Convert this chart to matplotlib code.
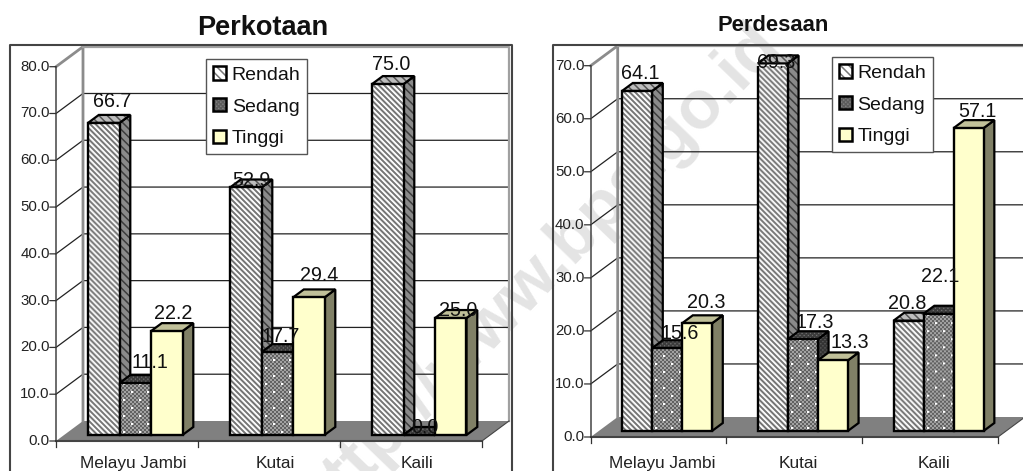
import matplotlib
matplotlib.use("Agg")
import matplotlib.pyplot as plt
import numpy as np
from matplotlib.legend_handler import HandlerTuple
from matplotlib.lines import Line2D
from matplotlib.patches import Patch

W, H = 1023, 471
plt.rcParams["font.family"] = ["Liberation Sans", "DejaVu Sans"]
plt.rcParams["hatch.linewidth"] = 1.1

# Data
categories = ["Melayu Jambi", "Kutai", "Kaili"]
series_names = ["Rendah", "Sedang", "Tinggi"]

kota_rendah = [66.7, 52.9, 75.0]
kota_sedang = [11.1, 17.7, 0.0]
kota_tinggi = [22.2, 29.4, 25.0]

desa_rendah = [64.1, 69.3, 20.8]
desa_sedang = [15.6, 17.3, 22.1]
desa_tinggi = [20.3, 13.3, 57.1]

kota_ticks = [0, 10, 20, 30, 40, 50, 60, 70, 80]
desa_ticks = [0, 10, 20, 30, 40, 50, 60, 70]

# Look of each series: (face, hatch colour, hatch) for side and top, plain colour for the front
STYLES = [
    {"front": "#c0c0c0", "side": ("#8a8a8a", "#3c3c3c", "\\\\\\\\"), "top": ("#bdbdbd", "#555555", "\\\\\\\\")},
    {"front": "#808080", "side": ("#5a5a5a", "#333333", "xxxxxxxx"), "top": ("#6e6e6e", "#3c3c3c", "xxxxxxxx")},
    {"front": "#ffffcc", "side": ("#808066", None, None), "top": ("#c0c099", None, None)},
]

# Label offsets in pixels from the top of each front face
KOTA_NUDGE = [
    [(8, 16), (6, 1), (3, 14)],
    [(15, 15), (3, 10), (6, 2)],
    [(6.5, 12), (10, 16), (7, 2)],
]
DESA_NUDGE = [
    [(3, 12), (3, -5), (-1, 11.6)],
    [(13, 9), (12, 11), (2, 32)],
    [(9, 15), (17, 12), (9, 11)],
]

DEPTH_X, DEPTH_Y = 27, 20
BAR_NEAR, BAR_FAR = 0.3, 0.7


def stripe_texture(rows, cols):
    # diagonal grey and white stripes
    yy, xx = np.mgrid[0:rows, 0:cols]
    wave = 0.5 + 0.5 * np.cos(2 * np.pi * (xx - yy) / 5.5)
    return 0.98 - 0.52 * np.clip(wave * 1.5 - 0.25, 0, 1)


def speckle_texture(rows, cols):
    # fine dark checker with small pale dots in staggered rows
    yy, xx = np.mgrid[0:rows, 0:cols]
    tex = np.where((xx // 2 + yy // 2) % 2 == 0, 0.38, 0.64)
    for r in range(3, rows, 8):
        shift = 4 if (r // 8) % 2 == 0 else 12
        for c in range(shift, cols, 16):
            tex[max(r - 1, 0):r + 1, max(c - 1, 0):c + 1] = 1.0
    return tex[::-1]


def fig_line(fig, xs, ys, color="#444444", lw=1.2):
    fig.add_artist(Line2D([x / W for x in xs], [1 - y / H for y in ys], color=color, lw=lw,
                          solid_capstyle="projecting"))


def draw_face(ax, xs, ys, style, z):
    face, hatch_color, hatch = style
    ax.fill(xs, ys, facecolor=face, edgecolor=hatch_color or face, hatch=hatch, lw=0, zorder=z, clip_on=False)
    ax.fill(xs, ys, facecolor="none", edgecolor="black", lw=1.6, zorder=z, clip_on=False, joinstyle="miter")


def legend_handles():
    outline = dict(facecolor="none", edgecolor="black", lw=1.8)
    rendah = Patch(facecolor="white", edgecolor="#777777", hatch="\\\\\\\\", lw=0)
    sedang = Patch(facecolor="#858585", edgecolor="#5c5c5c", hatch="xxxxxxxx", lw=0)
    tinggi = Patch(facecolor="#ffffcc", lw=0)
    return [(p, Patch(**outline)) for p in (rendah, sedang, tinggi)]


def draw_chart(fig, left, right, top, bottom, ticks, columns, bar_px, first_bar_px, nudges,
               title, title_xy, title_size, frame, legend_xy, label_shift, label_drop):
    ymax = ticks[-1]
    ax = fig.add_axes([left / W, 1 - bottom / H, (right - left) / W, (bottom - top) / H])
    ax.set_xlim(0, len(categories))
    ax.set_ylim(0, ymax)
    ax.axis("off")
    ax.patch.set_alpha(0)

    px_x = (right - left) / len(categories)
    px_y = (bottom - top) / ymax
    dx, dy = DEPTH_X / px_x, DEPTH_Y / px_y
    n = len(categories)

    # Frame around the whole chart
    fig_line(fig, [frame[0], frame[0], frame[1], frame[1]], [H, 44.5, 44.5, H], lw=1.5)

    # Floor, walls and gridlines
    ax.fill([0, n, n + dx, dx], [0, 0, dy, dy], color="#808080", lw=0, zorder=1, clip_on=False)
    ax.plot([0, n], [0, 0], color="#444444", lw=1.5, zorder=2, clip_on=False)
    ax.plot([n, n + dx], [0, dy], color="#444444", lw=0.8, zorder=2, clip_on=False)
    for t in ticks[1:-1]:
        ax.plot([0, dx, n + dx], [t, t + dy, t + dy], color="#222222", lw=0.9, zorder=1, clip_on=False)
    ax.plot([0, dx, dx], [ymax, ymax + dy, dy], color="#8c8c8c", lw=2, zorder=1, clip_on=False)
    ax.plot([dx, n + dx, n + dx], [ymax + dy, ymax + dy, dy], color="#a0a0a0", lw=1.6, zorder=1, clip_on=False)
    ax.plot([0, 0], [0, ymax], color="#444444", lw=1.1, zorder=2, clip_on=False)

    # Tick marks and labels
    for t in ticks:
        ax.annotate("", xy=(0, t), xytext=(-4.5, 0), textcoords="offset points",
                    arrowprops=dict(arrowstyle="-", color="#333333", lw=0.9, shrinkA=0, shrinkB=0))
        ax.annotate(f"{t:.1f}", xy=(0, t), xytext=(-4.5, 0), textcoords="offset points",
                    ha="right", va="center", fontsize=10.8, color="#222222")
    for i in range(n + 1):
        ax.plot([i, i], [0, -6 / px_y], color="#333333", lw=0.9, zorder=2, clip_on=False)
    for i, name in enumerate(categories):
        ax.annotate(name, xy=(i + 0.5, 0), xytext=(label_shift * 0.72, -label_drop * 0.72), textcoords="offset points",
                    ha="center", va="center", fontsize=12.4, color="#222222")

    # Bars, left to right so each front hides the neighbour's side
    w = bar_px / px_x
    base = BAR_NEAR * dy
    run = (BAR_FAR - BAR_NEAR) * dx
    rise = (BAR_FAR - BAR_NEAR) * dy
    z = 5
    for c in range(n):
        for s, values in enumerate(columns):
            v = values[c]
            st = STYLES[s]
            x0 = c + (first_bar_px + s * bar_px) / px_x
            x1 = x0 + w
            y1 = base + v
            draw_face(ax, [x1, x1 + run, x1 + run, x1], [base, base + rise, y1 + rise, y1], st["side"], z)
            draw_face(ax, [x0, x1, x1 + run, x0 + run], [y1, y1, y1 + rise, y1 + rise], st["top"], z)
            z += 1
            ax.bar(x0, v, width=w, bottom=base, align="edge", color=st["front"], lw=0, zorder=z)
            rows, cols = int(round(v * px_y)), int(round(bar_px))
            if rows > 0 and s < 2:
                tex = stripe_texture(rows, cols) if s == 0 else speckle_texture(rows, cols)
                ax.imshow(tex, extent=(x0, x1, base, y1), aspect="auto", cmap="gray", vmin=0, vmax=1,
                          interpolation="bilinear", zorder=z)
            ax.bar(x0, v, width=w, bottom=base, align="edge", color="none", edgecolor="black", lw=1.7, zorder=z)
            z += 1

    # Value labels go on top of every bar
    for c in range(n):
        for s, values in enumerate(columns):
            v = values[c]
            x = c + (first_bar_px + (s + 0.5) * bar_px) / px_x
            nx, ny = nudges[s][c]
            ax.annotate(f"{v:.1f}", xy=(x, base + v), xytext=(nx * 0.72, ny * 0.72), textcoords="offset points",
                        ha="center", va="baseline", fontsize=14.2, color="#111111", zorder=200,
                        annotation_clip=False)

    fig.text(title_xy[0] / W, 1 - title_xy[1] / H, title, ha="center", va="baseline",
             fontsize=title_size, fontweight="bold", color="#111111")

    leg = ax.legend(legend_handles(), series_names, loc="upper left",
                    bbox_to_anchor=(legend_xy[0] / W, 1 - legend_xy[1] / H),
                    bbox_transform=fig.transFigure, borderaxespad=0, fontsize=14,
                    handler_map={tuple: HandlerTuple(ndivide=1, pad=0)},
                    handlelength=0.68, handleheight=0.68, handletextpad=0.28, labelspacing=0.74,
                    borderpad=0.36, fancybox=False, framealpha=1, edgecolor="#555555", labelcolor="#111111")
    leg.get_frame().set_linewidth(1.0)
    leg.set_zorder(100)


fig = plt.figure(figsize=(W / 100, H / 100), dpi=100, facecolor="white")

# Site address printed faintly behind both charts
fig.text(538 / W, 1 - 273 / H, "http://www.bps.go.id", rotation=46, rotation_mode="anchor", ha="center",
         va="center", fontsize=49, fontweight="bold", color="#e4e4e4", zorder=-1)

draw_chart(fig, 56, 482, 66.7, 441, kota_ticks, [kota_rendah, kota_sedang, kota_tinggi], 31.5, 32, KOTA_NUDGE,
           "Perkotaan", (262.5, 35), 19.5, (10, 512), (206, 59.2), 6, 22.5)
draw_chart(fig, 590.7, 998, 65.7, 437, desa_ticks, [desa_rendah, desa_sedang, desa_tinggi], 30, 31.3, DESA_NUDGE,
           "Perdesaan", (773, 31), 15.8, (553, 1030), (831.7, 57.2), 4, 26.5)

fig.savefig("out.png", dpi=100)
